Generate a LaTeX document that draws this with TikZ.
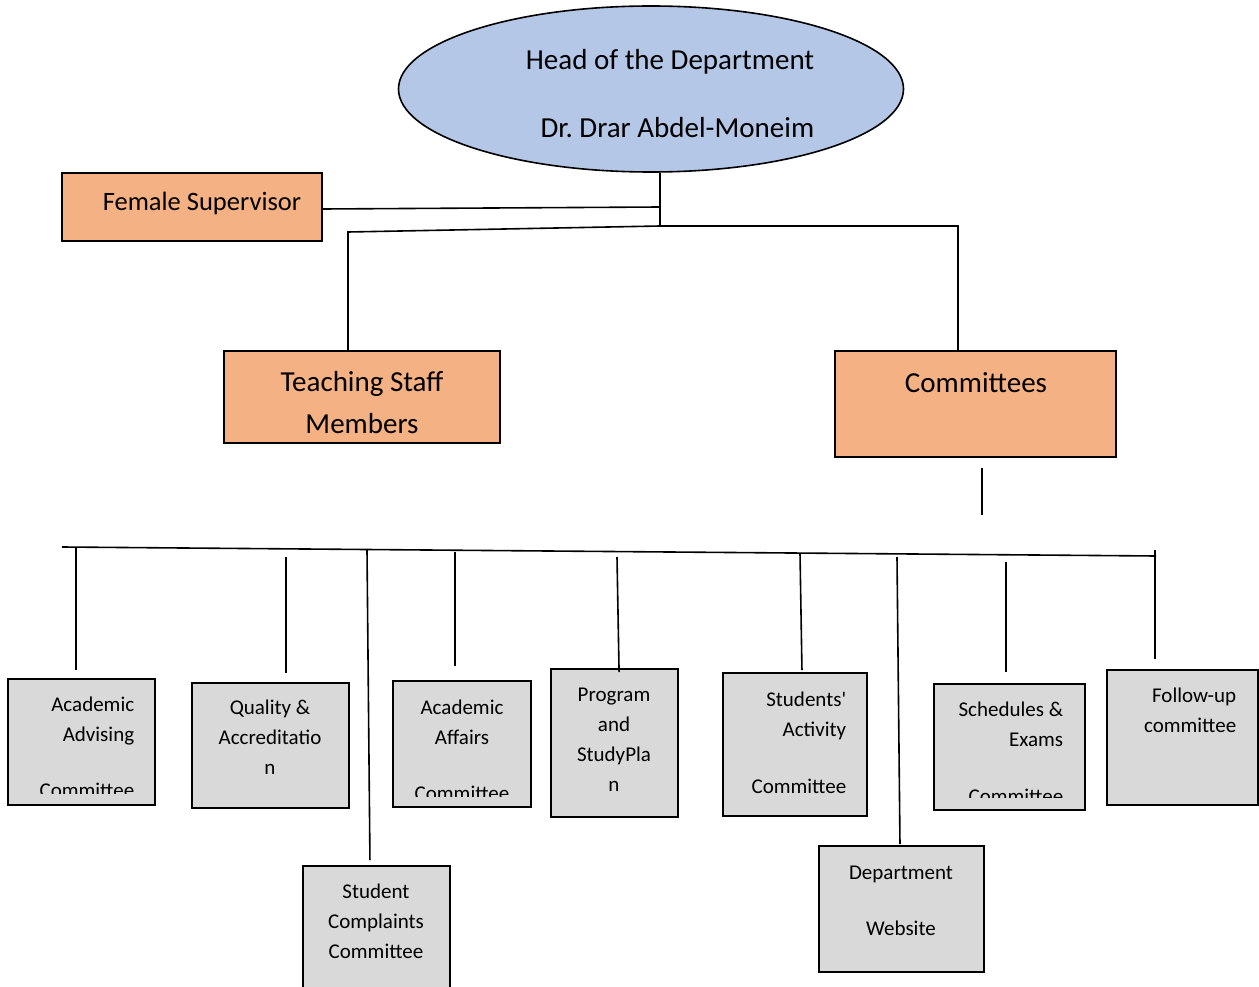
\documentclass[tikz,border=0pt]{standalone}
\usepackage{fontspec}
\setmainfont{Carlito}[Ligatures=TeXOff]
\usetikzlibrary{shapes.geometric}
\definecolor{jefe}{HTML}{B4C7E7}
\definecolor{naranja}{HTML}{F4B183}
\definecolor{gris}{HTML}{D9D9D9}
\begin{document}
\begin{tikzpicture}[x=1pt, y=-1pt, line width=1.6pt,
    caja/.style={draw, line width=1.8pt, inner sep=0pt},
    comite/.style={caja, fill=gris},
    texto/.style={inner sep=0pt, font=\fontsize{21}{30}\selectfont}]
    \useasboundingbox (0,0) rectangle (1259,987);
    % Jefe del departamento
    \node[ellipse, draw, fill=jefe, minimum width=505, minimum height=166] (head) at (651,89) {};
    \node[inner sep=0pt, align=right, anchor=base east, font=\fontsize{29}{34}\selectfont] (head-t) at (815,138) {Head of the Department\\[34pt]Dr.\ Drar Abdel-Moneim};
    % Segundo nivel
    \node[caja, fill=naranja, minimum width=260, minimum height=68] (fem) at (192,207) {};
    \node[inner sep=0pt, anchor=base, font=\fontsize{26.5}{32}\selectfont] (fem-t) at (202,211) {Female Supervisor};
    \node[caja, fill=naranja, minimum width=276, minimum height=92] (teach) at (362,397) {};
    \node[inner sep=0pt, align=center, anchor=base, font=\fontsize{29}{42}\selectfont] (teach-t) at (362,433) {Teaching Staff\\Members};
    \node[caja, fill=naranja, minimum width=281, minimum height=106] (comm) at (975.5,404) {};
    \node[inner sep=0pt, anchor=base, font=\fontsize{29}{42}\selectfont] (comm-t) at (976,392) {Committees};
    % Lineas de arriba
    \coordinate (j1) at (660,207);
    \coordinate (j2) at (660,226);
    \coordinate (c1) at (348,232);
    \coordinate (c2) at (958,226);
    \draw (head.south -| j2) -- (j2);
    \draw ([yshift=-2pt]fem.east) -- (j1);
    \draw (j2) -- (c1) -- (c1 |- teach.north);
    \draw (j2) -- (c2) -- (c2 |- comm.north);
    \coordinate (s1) at (982,468);
    \coordinate (s2) at (982,515);
    \draw (s1) -- (s2);
    % Comites
    \node[comite, minimum width=147, minimum height=126] (adv) at (81.5,742) {};
    \node[comite, minimum width=157, minimum height=125] (qual) at (270.5,745.5) {};
    \node[comite, minimum width=147, minimum height=134] (compl) at (376.5,933) {};
    \node[comite, minimum width=138, minimum height=126] (aff) at (462,744) {};
    \node[comite, minimum width=127, minimum height=148] (prog) at (614.5,743) {};
    \node[comite, minimum width=144, minimum height=143] (act) at (795,744.5) {};
    \node[comite, minimum width=165, minimum height=126] (web) at (901.5,909) {};
    \node[comite, minimum width=151, minimum height=126] (sch) at (1009.5,747) {};
    \node[comite, minimum width=151, minimum height=135] (fol) at (1182.5,737.5) {};
    \begin{scope}
      \clip (8,679) rectangle (155,793);
      \node[texto, align=right, anchor=base east] (adv-t) at (135,797) {Academic\\Advising\\[26pt]Committee};
    \end{scope}
    \node[texto, align=center, anchor=base] (qual-t) at (270,774) {Quality \&\\Accreditatio\\n};
    \node[texto, align=center, anchor=base] (compl-t) at (376,958) {Student\\Complaints\\Committee};
    \begin{scope}
      \clip (393,681) rectangle (531,796);
      \node[texto, align=center, anchor=base] (aff-t) at (462,800) {Academic\\Affairs\\[26pt]Committee};
    \end{scope}
    \node[texto, align=center, anchor=base] (prog-t) at (614,791) {Program\\and\\StudyPla\\n};
    \node[texto, align=right, anchor=base east] (act-t) at (847,793) {Students'\\Activity\\[27pt]Committee};
    \node[texto, align=center, anchor=base] (web-t) at (901,935) {Department\\[26pt]Website};
    \begin{scope}
      \clip (934,684) rectangle (1085,797);
      \node[texto, align=right, anchor=base east] (sch-t) at (1064,803) {Schedules \&\\Exams\\[27pt]Committee};
    \end{scope}
    \node[texto, align=right, anchor=base east] (fol-t) at (1237,732) {Follow-up\\committee};
    % Barra y bajadas
    \coordinate (b0) at (62,547);
    \coordinate (b1) at (1156,556);
    \draw (b0) -- (b1);
    \foreach \d/\x/\y/\b/\g/\s in {1/76/548/adv/8/0, 2/286/557/qual/9/0, 3/367/550/compl/5/3,
        4/455/552/aff/14/0, 5/617/557/prog/-4/2, 6/800/553/act/2/2, 7/897/557/web/1/3,
        8/1006/562/sch/11/0, 9/1155/550/fol/10/0}{
      \coordinate (d\d) at (\x,\y);
      \draw[shorten >=\g] (d\d) -- ([xshift=\s]d\d |- \b.north);
    }
\end{tikzpicture}
\end{document}
